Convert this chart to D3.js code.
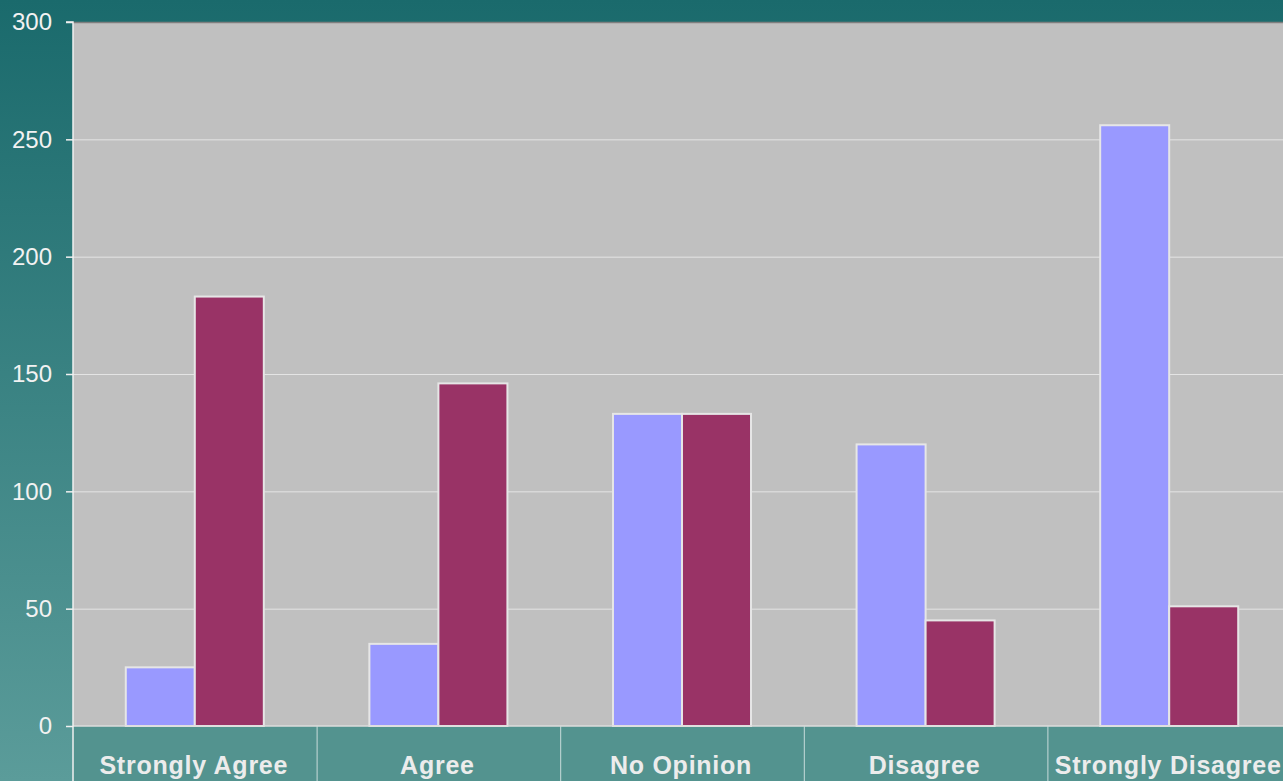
<!DOCTYPE html>
<html>
<head>
<meta charset="utf-8">
<script src="https://cdn.jsdelivr.net/npm/d3@7"></script>
<style>
html,body{margin:0;padding:0;overflow:hidden;}
svg{display:block;font-family:"Liberation Sans",Arial,sans-serif;}
</style>
</head>
<body>
<svg id="chart" width="1283" height="781"></svg>
<script>
const categories = ["Strongly Agree","Agree","No Opinion","Disagree","Strongly Disagree"];
const seriesA = [25, 35, 133, 120, 256];
const seriesB = [183, 146, 133, 45, 51];
const yTicks = [0, 50, 100, 150, 200, 250, 300];

const W = 1283, H = 781;
const mLeft = 73, mTop = 22, plotW = 1218, mBottom = 726;
const svg = d3.select("#chart");

const defs = svg.append("defs");
const grad = defs.append("linearGradient").attr("id","bg").attr("x1",0).attr("y1",0).attr("x2",0).attr("y2",1);
grad.append("stop").attr("offset","0%").attr("stop-color","#1a6a6c");
grad.append("stop").attr("offset","100%").attr("stop-color","#5b9c9a");
svg.append("rect").attr("width",W).attr("height",H).attr("fill","url(#bg)");

const x = d3.scaleBand().domain(categories).range([mLeft, mLeft+plotW]).paddingInner(0).paddingOuter(0);
const xs = d3.scaleBand().domain(["a","b"]).range([0, x.bandwidth()]).paddingOuter(0.765).paddingInner(0);
const y = d3.scaleLinear().domain([0,300]).range([mBottom, mTop]);

// plot area
svg.append("rect").attr("x",mLeft).attr("y",mTop).attr("width",plotW).attr("height",mBottom-mTop).attr("fill","#c0c0c0");
// category strip
svg.append("rect").attr("x",mLeft).attr("y",mBottom).attr("width",plotW).attr("height",H-mBottom).attr("fill","#53938f");

// gridlines
svg.append("g").selectAll("line").data(yTicks.filter(d=>d>0 && d<300)).join("line")
  .attr("x1",mLeft).attr("x2",mLeft+plotW).attr("y1",d=>y(d)+0.5).attr("y2",d=>y(d)+0.5)
  .attr("stroke","#e4e4e4").attr("stroke-width",1);
// top border
svg.append("line").attr("x1",mLeft).attr("x2",mLeft+plotW).attr("y1",mTop+0.5).attr("y2",mTop+0.5).attr("stroke","#7f7f7f").attr("stroke-width",1.5);

// bars
const g = svg.append("g");
categories.forEach((c,i)=>{
  const vals = [{k:"a",v:seriesA[i],col:"#9999ff"},{k:"b",v:seriesB[i],col:"#993366"}];
  g.selectAll(null).data(vals).join("rect")
    .attr("x",d=>x(c)+xs(d.k))
    .attr("y",d=>y(d.v))
    .attr("width",xs.bandwidth())
    .attr("height",d=>y(0)-y(d.v))
    .attr("fill",d=>d.col)
    .attr("stroke","#e6e6e6").attr("stroke-width",2);
});

// bottom axis line
svg.append("line").attr("x1",mLeft).attr("x2",mLeft+plotW).attr("y1",mBottom).attr("y2",mBottom).attr("stroke","#dcdcdc").attr("stroke-width",1.5);

// category dividers
svg.append("g").selectAll("line").data(categories.slice(1)).join("line")
  .attr("x1",d=>x(d)+0.5).attr("x2",d=>x(d)+0.5).attr("y1",mBottom).attr("y2",H)
  .attr("stroke","#c9dcdb").attr("stroke-width",1);

// y axis
const yAxis = d3.axisLeft(y).tickValues(yTicks).tickSize(7).tickPadding(14);
const ya = svg.append("g").attr("transform",`translate(${mLeft},0)`).call(yAxis);
ya.select(".domain").attr("stroke","#f0f0f0").attr("stroke-width",1.5).attr("d",`M-7,${mTop}H0V${H}`);
ya.selectAll(".tick line").attr("stroke","#f0f0f0").attr("stroke-width",1.5);
ya.selectAll(".tick text").attr("fill","#f2f2f2").style("font-size","24px").style("font-family","'Liberation Sans',Arial,sans-serif");

// category labels
svg.append("g").selectAll("text").data(categories).join("text")
  .attr("x",d=>x(d)+x.bandwidth()/2 - 1).attr("y",773.5)
  .attr("text-anchor","middle")
  .attr("fill","#ececec")
  .style("font-size","25px").style("font-weight","bold").style("letter-spacing","0.75px")
  .text(d=>d);
</script>
</body>
</html>
